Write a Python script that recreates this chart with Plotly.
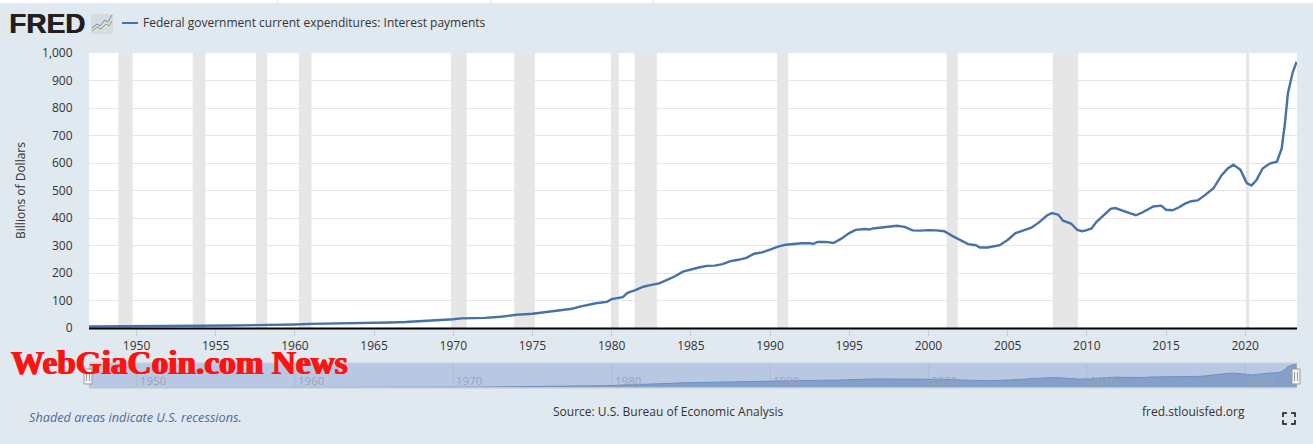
import plotly.graph_objects as go

W, H = 1313, 444
L, R, T, B = 89, 1297, 53, 328       # main plot box in page pixels
NT, NB = 363, 388                    # navigator box

# ---------- data ----------
years = [1947, 1948, 1950, 1952, 1954, 1956, 1958, 1959, 1960, 1961, 1962, 1964, 1965, 1966, 1967, 1968, 1969,
         1970, 1970.5, 1971, 1972, 1973, 1974, 1975, 1976, 1977, 1977.5, 1978, 1979, 1979.7, 1980, 1980.7,
         1981, 1981.5, 1982, 1982.5, 1983, 1983.5, 1984, 1984.5, 1985, 1985.5, 1986, 1986.5, 1987, 1987.5,
         1988, 1988.5, 1989, 1989.5, 1990, 1990.5, 1991, 1991.5, 1992, 1992.5, 1992.75, 1993, 1993.5, 1994,
         1994.5, 1995, 1995.4, 1996, 1996.25, 1996.5, 1997, 1997.5, 1998, 1998.5, 1999, 1999.5, 2000, 2000.5,
         2001, 2001.5, 2002, 2002.5, 2003, 2003.25, 2003.75, 2004.5, 2005, 2005.5, 2006, 2006.5, 2007, 2007.5,
         2007.8, 2008.2, 2008.5, 2009, 2009.4, 2009.7, 2010, 2010.3, 2010.6, 2011, 2011.5, 2011.8, 2012.2,
         2012.7, 2013.1, 2013.5, 2014.2, 2014.7, 2015, 2015.4, 2015.8, 2016.2, 2016.6, 2017, 2017.5, 2018,
         2018.5, 2018.9, 2019.25, 2019.7, 2020.1, 2020.4, 2020.7, 2021.1, 2021.55, 2022, 2022.3, 2022.5,
         2022.7, 2023, 2023.25]
interest_payments = [5.5, 5.5, 6, 6.5, 8, 9, 10, 11, 13, 15, 15.5, 18, 19, 20, 22, 25, 27,
                     32, 35, 35.5, 37, 41, 48, 52, 59, 65, 70, 78, 90, 95, 105, 112,
                     128, 138, 150, 157, 162, 175, 188, 205, 213, 220, 226, 227, 232, 243,
                     248, 255, 270, 275, 285, 296, 303, 306, 308, 308, 306, 313, 313, 309,
                     325, 345, 357, 360, 358, 362, 366, 370, 372, 368, 355, 354, 356, 355,
                     352, 335, 320, 305, 301, 293, 293, 301, 320, 345, 355, 365, 385, 410,
                     418, 412, 390, 380, 357, 352, 356, 362, 385, 405, 433, 436, 427,
                     418, 410, 420, 442, 445, 430, 428, 438, 452, 461, 464, 485, 508,
                     555, 580, 594, 575, 527, 518, 537, 580, 598, 605, 652, 740,
                     855, 930, 968]

recession_start = [1948.85, 1953.55, 1957.55, 1960.25, 1969.85, 1973.85, 1979.95, 1981.45, 1990.45, 2001.15, 2007.85, 2020.05]
recession_end = [1949.75, 1954.35, 1958.25, 1961.05, 1970.85, 1975.15, 1980.45, 1982.85, 1991.15, 2001.85, 2009.45, 2020.25]

x_ticks = list(range(1950, 2021, 5))
y_ticks = list(range(0, 1001, 100))
nav_ticks = list(range(1950, 2021, 10))
series_name = "Federal government current expenditures: Interest payments"
y_title = "Billions of Dollars"

# ---------- helpers: page pixels to paper fractions ----------
px = lambda v: (v - L) / (R - L)
py = lambda v: (NB - v) / (NB - T)
FONT = "Open Sans"
BG = "#e1e9f0"
LINE = "#4572a7"
XR = [1947.0, 2023.27]

fig = go.Figure()
fig.add_trace(go.Scatter(x=years, y=interest_payments, mode="lines", name=series_name,
                         line=dict(color=LINE, width=2.4), showlegend=False, hoverinfo="x+y"))
fig.add_trace(go.Scatter(x=years, y=interest_payments, mode="lines", xaxis="x2", yaxis="y2", showlegend=False,
                         line=dict(color="#6f8fc0", width=1), fill="tozeroy", fillcolor="#84a0c9",
                         hoverinfo="skip"))

shapes = []
for a, b in zip(recession_start, recession_end):
    shapes.append(dict(type="rect", xref="x", yref="y domain", x0=a, x1=b, y0=0, y1=1,
                       fillcolor="#e6e6e6", line_width=0, layer="below"))
# axis baseline
shapes.append(dict(type="line", xref="paper", yref="paper", x0=px(L), x1=px(R), y0=py(B + .5), y1=py(B + .5),
                   line=dict(color="#000000", width=2)))
# navigator tint and frame
shapes.append(dict(type="rect", xref="x2 domain", yref="y2 domain", x0=0, x1=1, y0=0, y1=1, fillcolor="#b9c8e2",
                   line_width=0, layer="below"))
shapes.append(dict(type="line", xref="paper", yref="paper", x0=px(L), x1=px(R), y0=py(NT), y1=py(NT),
                   line=dict(color="#cfd3d8", width=1.5)))
shapes.append(dict(type="line", xref="paper", yref="paper", x0=px(L), x1=px(R), y0=py(NB), y1=py(NB),
                   line=dict(color="#cfd3d8", width=1.5)))
# navigator handles
for cx in (L - 1, R - 1):
    shapes.append(dict(type="rect", xref="paper", yref="paper", x0=px(cx - 4), x1=px(cx + 4), y0=py(369), y1=py(384),
                       fillcolor="#f4f4f4", line=dict(color="#999999", width=1)))
    for dx in (-1.5, 1.5):
        shapes.append(dict(type="line", xref="paper", yref="paper", x0=px(cx + dx), x1=px(cx + dx), y0=py(372), y1=py(381),
                           line=dict(color="#999999", width=1)))
# legend swatch
shapes.append(dict(type="line", xref="paper", yref="paper", x0=px(122), x1=px(138), y0=py(23), y1=py(23),
                   line=dict(color=LINE, width=2)))
# white sliver of the page above the chart
shapes.append(dict(type="rect", xref="paper", yref="paper", x0=px(0), x1=px(W), y0=py(3), y1=py(0), fillcolor="#ffffff", line_width=0))
for vx in (278, 491, 653):
    shapes.append(dict(type="line", xref="paper", yref="paper", x0=px(vx), x1=px(vx), y0=py(3), y1=py(0),
                       line=dict(color="#e4e4e4", width=1)))
# logo icon
shapes.append(dict(type="rect", xref="paper", yref="paper", x0=px(91), x1=px(113), y0=py(34), y1=py(14),
                   fillcolor="#d9dcdd", line_width=0))
def poly(points):
    return "M " + " L ".join(f"{px(a):.5f},{py(b):.5f}" for a, b in points)
shapes.append(dict(type="path", xref="paper", yref="paper", path=poly([(92, 28), (97, 24), (100, 26), (105, 20), (108, 22), (112, 15)]),
                   line=dict(color="#6c8fb5", width=1)))
shapes.append(dict(type="path", xref="paper", yref="paper", path=poly([(92, 31), (97, 27), (101, 29), (106, 24), (109, 26), (112, 21)]),
                   line=dict(color="#86a86a", width=1)))
# fullscreen icon corners
for (x0, y0, dx, dy) in [(1283, 413, 1, 1), (1295, 413, -1, 1), (1283, 424, 1, -1), (1295, 424, -1, -1)]:
    shapes.append(dict(type="path", xref="paper", yref="paper",
                       path=poly([(x0 + 4 * dx, y0), (x0, y0), (x0, y0 + 4 * dy)]),
                       line=dict(color="#111111", width=1.5)))
# navigator gridlines
for t in nav_ticks:
    shapes.append(dict(type="line", xref="x2", yref="y2 domain", x0=t, x1=t, y0=0, y1=1,
                       line=dict(color="#aebcd6", width=1), layer="below"))

def note(text, x, y, size=12, color="#333333", anchor="left", shadow=None, **kw):
    font = dict(family=kw.pop("family", FONT), size=size, color=color)
    if shadow:
        font["shadow"] = shadow
    return dict(text=text, xref="paper", yref="paper", x=px(x), y=py(y), xanchor=anchor, yanchor="middle",
                showarrow=False, font=font, **kw)

annotations = [
    note("<b>FRED</b>", 7, 23.5, size=28, color="#231f20", family="Liberation Sans", shadow="0.6px 0 0 #231f20"),
    note(series_name, 141, 23, size=12, color="#333333"),
    note("<i>Shaded areas indicate U.S. recessions.</i>", 27, 416.5, size=12.7, color="#4f6a9b"),
    note("Source: U.S. Bureau of Economic Analysis", 668, 411.5, size=12, color="#333333", anchor="center"),
    note("fred.stlouisfed.org", 1140, 411.5, size=12, color="#333333"),
]
for t in nav_ticks:
    annotations.append(dict(text=str(t), xref="x2", yref="y2 domain", x=t, y=0.5, xshift=16, yshift=-5,
                            xanchor="center", yanchor="middle", showarrow=False,
                            font=dict(family=FONT, size=11.5, color="#9aa3b5")))
annotations.append(note("<b>WebGiaCoin.com News</b>", 9, 362.5, size=33.3, color="#ff1212", family="Liberation Serif",
                        shadow="0.8px 0 0 #ff1212, -0.8px 0 0 #ff1212"))

main_h = NB - T
fig.update_layout(
    width=W, height=H, paper_bgcolor=BG, plot_bgcolor="#ffffff",
    margin=dict(l=L, r=W - R, t=T, b=H - NB, pad=0), showlegend=False,
    font=dict(family=FONT, size=12, color="#333333"),
    shapes=shapes, annotations=annotations,
    xaxis=dict(range=XR, tickvals=x_ticks, ticktext=[str(t) for t in x_ticks], showgrid=False, zeroline=False,
               ticks="outside", ticklen=7, tickwidth=1, tickcolor="#c0d0e0", showline=False,
               tickfont=dict(size=12, color="#333333"), anchor="y"),
    yaxis=dict(domain=[(NB - B) / main_h, 1], range=[0, 1000], tickvals=y_ticks, tickformat=",d", showgrid=True,
               gridcolor="#e6e6e6", gridwidth=1, zeroline=False, showline=False, ticks="outside", ticklen=13,
               tickcolor="rgba(0,0,0,0)", tickfont=dict(size=12, color="#333333"),
               title=dict(text=y_title, standoff=13, font=dict(size=12, color="#333333"))),
    xaxis2=dict(range=XR, domain=[0, 1], anchor="y2", showticklabels=False, showgrid=False, zeroline=False, ticks=""),
    yaxis2=dict(domain=[0, (NB - NT) / main_h], range=[0, 1000], anchor="x2", showticklabels=False, showgrid=False,
                zeroline=False, ticks=""),
)

fig.write_html("out.html", post_script="document.body.style.margin='0';", config=dict(displayModeBar=False))
